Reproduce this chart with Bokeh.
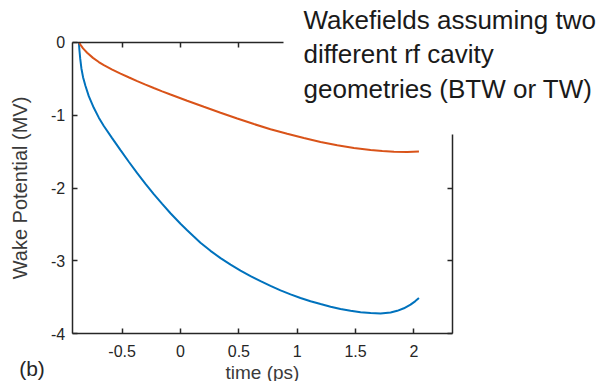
from bokeh.plotting import figure
from bokeh.models import Range1d, FixedTicker, LinearAxis, Label
from bokeh.embed import file_html
from bokeh.resources import INLINE

# Wake potential, blue curve (time in ps, potential in MV)
t_blue = [-0.871, -0.866, -0.859, -0.849, -0.835, -0.814, -0.786, -0.743, -0.700,
          -0.657, -0.586, -0.514, -0.443, -0.371, -0.300, -0.229, -0.157, -0.086,
          0.000, 0.057, 0.114, 0.171, 0.257, 0.343, 0.429, 0.514, 0.600, 0.686,
          0.771, 0.857, 0.943, 1.028, 1.114, 1.200, 1.286, 1.371, 1.457, 1.543,
          1.629, 1.714, 1.800, 1.857, 1.914, 1.971, 2.010, 2.043]
v_blue = [0.000, -0.110, -0.230, -0.360, -0.480, -0.600, -0.740, -0.900, -1.035,
          -1.150, -1.315, -1.480, -1.640, -1.797, -1.942, -2.084, -2.218, -2.346,
          -2.490, -2.579, -2.666, -2.750, -2.862, -2.962, -3.052, -3.133, -3.209, -3.278,
          -3.343, -3.404, -3.459, -3.508, -3.553, -3.592, -3.628, -3.659, -3.685, -3.705,
          -3.716, -3.722, -3.708, -3.685, -3.650, -3.600, -3.555, -3.510]

# Wake potential, orange curve
t_orange = [-0.871, -0.855, -0.835, -0.800, -0.750, -0.700, -0.657, -0.585, -0.514,
            -0.440, -0.371, -0.300, -0.229, -0.157, -0.086, 0.057, 0.200, 0.343,
            0.486, 0.629, 0.771, 0.914, 1.057, 1.200, 1.343, 1.486, 1.629, 1.729,
            1.829, 1.943, 2.043]
v_orange = [0.000, -0.040, -0.085, -0.145, -0.215, -0.272, -0.315, -0.375, -0.430,
            -0.484, -0.533, -0.581, -0.628, -0.674, -0.718, -0.803, -0.886, -0.967,
            -1.047, -1.123, -1.193, -1.257, -1.315, -1.368, -1.414, -1.451, -1.479, -1.493,
            -1.502, -1.505, -1.500]

x_ticks = [-0.5, 0, 0.5, 1, 1.5, 2]
x_tick_labels = ["-0.5", "0", "0.5", "1", "1.5", "2"]
y_ticks = [0, -1, -2, -3, -4]
y_tick_labels = ["0", "-1", "-2", "-3", "-4"]

# axes box limits (data units) and where the open top-right corner begins
x_min, x_max = -0.928, 2.328
y_min, y_max = -4.0, 0.0
top_axis_end = 0.8825
right_axis_end = -1.266
# horizontal span (data units) over which the panel tag "(b)" is centred
tag_span = (-1.32, -1.228)

title_text = "Wakefields assuming two\ndifferent rf cavity\ngeometries (BTW or TW)"
x_label = "time (ps)"
y_label = "Wake Potential (MV)"
panel_tag = "(b)"

FONT = "Liberation Sans"
AX = "#262626"
W, H = 603, 381

p = figure(width=W, height=H, output_backend="svg", toolbar_location=None,
           x_range=Range1d(-1.5423, 3.6243), y_range=Range1d(-4.6543, 0.5720),
           x_axis_location=None, y_axis_location=None,
           min_border=0, min_border_left=0, min_border_top=0, min_border_right=0,
           min_border_bottom=0)
p.outline_line_color = None
p.background_fill_color = "white"
p.border_fill_color = "white"
p.grid.visible = False

def style(ax, ticks, labels, show):
    ax.ticker = FixedTicker(ticks=ticks)
    ax.major_label_overrides = {t: l for t, l in zip(ticks, labels)}
    ax.axis_line_color = AX
    ax.axis_line_width = 1.5
    ax.major_tick_line_color = AX
    ax.major_tick_line_width = 1.5
    ax.major_tick_in = 5
    ax.major_tick_out = 0
    ax.minor_tick_line_color = None
    ax.major_label_text_font = FONT
    ax.major_label_text_font_size = "16px"
    ax.major_label_text_color = AX if show else None

bottom = LinearAxis(fixed_location=y_min, bounds=(x_min, x_max))
style(bottom, x_ticks, x_tick_labels, True)
bottom.major_label_standoff = 11
bottom.axis_label = x_label
bottom.axis_label_text_font = FONT
bottom.axis_label_text_font_size = "19px"
bottom.axis_label_text_font_style = "normal"
bottom.axis_label_text_color = "#3a3a3a"
bottom.axis_label_standoff = 2
p.add_layout(bottom, "below")

# panel tag "(b)" drawn as the label of a bare, line-less axis segment
tag_axis = LinearAxis(fixed_location=y_min, bounds=tag_span,
                      ticker=FixedTicker(ticks=[]))
tag_axis.axis_line_color = None
tag_axis.major_tick_line_color = None
tag_axis.minor_tick_line_color = None
tag_axis.major_label_text_color = None
tag_axis.major_label_standoff = 0
tag_axis.axis_label = panel_tag
tag_axis.axis_label_text_font = FONT
tag_axis.axis_label_text_font_size = "21px"
tag_axis.axis_label_text_font_style = "normal"
tag_axis.axis_label_text_color = "#262626"
tag_axis.axis_label_standoff = 23
p.add_layout(tag_axis, "below")

left = LinearAxis(fixed_location=x_min, bounds=(y_min, y_max))
style(left, y_ticks, y_tick_labels, True)
left.major_label_standoff = 7
left.axis_label = y_label
left.axis_label_text_font = FONT
left.axis_label_text_font_size = "20px"
left.axis_label_text_font_style = "normal"
left.axis_label_text_color = "#3a3a3a"
left.axis_label_standoff = 17
p.add_layout(left, "left")

top_ticks = [t for t in x_ticks if x_min <= t <= top_axis_end]
top = LinearAxis(fixed_location=y_max, bounds=(x_min, top_axis_end))
style(top, top_ticks, [""] * len(top_ticks), False)
p.add_layout(top, "above")

right_ticks = [v for v in y_ticks if y_min <= v <= right_axis_end]
right = LinearAxis(fixed_location=x_max, bounds=(y_min, right_axis_end))
style(right, right_ticks, [""] * len(right_ticks), False)
p.add_layout(right, "right")

p.line(t_blue, v_blue, line_color="#0072BD", line_width=2)
p.line(t_orange, v_orange, line_color="#D95319", line_width=2)

p.add_layout(Label(x=303, y=H - 4, x_units="screen", y_units="screen", text=title_text,
                   text_font=FONT, text_font_size="26px", text_color="#1a1a1a",
                   text_align="left", text_baseline="top", text_line_height=1.15))

open("out.html", "w").write(file_html(p, INLINE))
